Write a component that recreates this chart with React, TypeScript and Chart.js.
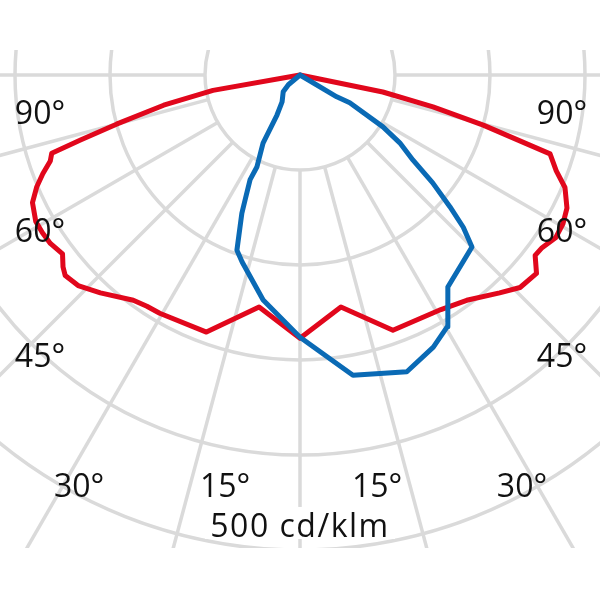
import React, { useEffect, useRef } from "react";
import { Chart, registerables } from "chart.js";
Chart.register(...registerables);

// Light distribution (cd/klm), angle in degrees from nadir; negative = left half
const redAngles = [-90, -80, -77.5, -75, -73.5, -72.5, -71, -69, -67, -64.5, -61, -58.5, -56, -53, -51, -49.5, -46.5, -42.5, -36.5, -33.5, -30.5, -20, -10, 0, 10, 20, 31, 36.5, 42.5, 46, 50, 52.5, 54.5, 57.5, 60.5, 63.5, 67, 69.5, 72.5, 74.7, 76.5, 78.4, 90];
const redValues = [0, 93, 147, 200, 241, 274, 278, 290, 301, 312, 318, 318, 317, 313, 321, 325, 322, 311, 295, 292, 291, 288, 248, 277, 248, 286, 288, 295, 311, 322, 325, 312, 313, 319, 318, 314, 303, 288, 276, 200, 144, 89, 0];

const blueAngles = [-90, -50, -45, -33.7, -29.9, -28.5, -25.1, -25.5, -23.7, -22.8, -19.8, -17.2, -9.3, 0, 5.5, 10, 19.8, 26.1, 30.3, 34.9, 45, 47, 48.7, 50.9, 53, 55.8, 58, 60.8, 59.3, 90];
const blueValues = [0, 16, 25, 34, 48.6, 81.5, 107, 122, 144, 158, 196, 206, 240, 276, 298, 321, 332, 319, 307, 272, 256, 235, 210, 180, 149, 127, 103, 60, 45, 0];

const ringValues = [100, 200, 300, 400, 500];
const spokeAngles = [-90, -75, -60, -45, -30, -15, 0, 15, 30, 45, 60, 75, 90];
const angleTickLabels = ["90°", "60°", "45°", "30°", "15°", "15°", "30°", "45°", "60°", "90°"];
const unitLabel = "500 cd/klm";

// label anchor points in chart units (x, baseline y)
const tickSpots = [
  [-273.7, -51.6], [-273.7, -175.8], [-273.7, -307.4], [-232.6, -444.2], [-78.9, -444.2],
  [81.1, -444.2], [233.7, -444.2], [275.8, -307.4], [275.8, -175.8], [275.8, -51.6],
];
const unitSpot = [0, -486.3];

const toXY = (angles: number[], values: number[]) =>
  angles.map((a, i) => ({
    x: values[i] * Math.sin((a * Math.PI) / 180),
    y: -values[i] * Math.cos((a * Math.PI) / 180),
  }));

const GRID = "#dadada";
const FONT = '32px "Open Sans"';

const gridPlugin = {
  id: "polarGrid",
  beforeDatasetsDraw(chart: any) {
    const { ctx, chartArea, scales } = chart;
    const xs = scales.x, ys = scales.y;
    const cx = xs.getPixelForValue(0), cy = ys.getPixelForValue(0);
    const ppu = (xs.getPixelForValue(100) - cx) / 100;
    const top = ys.getPixelForValue(26.3), bottom = ys.getPixelForValue(-497.9);
    ctx.save();
    ctx.beginPath();
    ctx.rect(chartArea.left, top, chartArea.right - chartArea.left, bottom - top);
    ctx.clip();
    ctx.strokeStyle = GRID;
    ctx.lineWidth = 3.5;
    ringValues.forEach((r) => {
      ctx.beginPath();
      ctx.arc(cx, cy, r * ppu, 0, Math.PI * 2);
      ctx.stroke();
    });
    spokeAngles.forEach((a) => {
      const s = Math.sin((a * Math.PI) / 180), c = Math.cos((a * Math.PI) / 180);
      ctx.beginPath();
      ctx.moveTo(xs.getPixelForValue(100 * s), ys.getPixelForValue(-100 * c));
      ctx.lineTo(xs.getPixelForValue(1000 * s), ys.getPixelForValue(-1000 * c));
      ctx.stroke();
    });
    ctx.restore();
    // white box behind unit label
    ctx.save();
    ctx.fillStyle = "#ffffff";
    const bx0 = xs.getPixelForValue(-100), bx1 = xs.getPixelForValue(100);
    const by0 = ys.getPixelForValue(-454.7), by1 = ys.getPixelForValue(-488.4);
    ctx.fillRect(bx0, by0, bx1 - bx0, by1 - by0);
    ctx.restore();
  },
  afterDatasetsDraw(chart: any) {
    const { ctx, scales } = chart;
    const xs = scales.x, ys = scales.y;
    ctx.save();
    ctx.font = FONT;
    ctx.fillStyle = "#111111";
    ctx.textAlign = "center";
    ctx.textBaseline = "alphabetic";
    angleTickLabels.forEach((t, i) => {
      ctx.fillText(t, xs.getPixelForValue(tickSpots[i][0]), ys.getPixelForValue(tickSpots[i][1]));
    });
    (ctx as any).letterSpacing = "1.5px";
    ctx.fillText(unitLabel, xs.getPixelForValue(unitSpot[0]), ys.getPixelForValue(unitSpot[1]));
    ctx.restore();
  },
};

export default function App() {
  const ref = useRef<HTMLCanvasElement>(null);
  useEffect(() => {
    if (!ref.current) return;
    const chart = new Chart(ref.current, {
      type: "scatter",
      data: {
        datasets: [
          {
            data: toXY(blueAngles, blueValues),
            showLine: true,
            borderColor: "#0a6ab5",
            borderWidth: 5,
            pointRadius: 0,
            fill: false,
            tension: 0,
            borderJoinStyle: "round",
            borderCapStyle: "round",
          },
          {
            data: toXY(redAngles, redValues),
            showLine: true,
            borderColor: "#e1071c",
            borderWidth: 5,
            pointRadius: 0,
            fill: false,
            tension: 0,
            borderJoinStyle: "round",
            borderCapStyle: "round",
          },
        ],
      },
      options: {
        animation: false,
        responsive: false,
        maintainAspectRatio: false,
        layout: { padding: 0 },
        plugins: { legend: { display: false }, tooltip: { enabled: false } },
        scales: {
          x: { type: "linear", min: -315.79, max: 315.79, display: false },
          y: { type: "linear", min: -552.63, max: 78.95, display: false },
        },
      },
      plugins: [gridPlugin],
    } as any);
    return () => chart.destroy();
  }, []);
  return (
    <div style={{ position: "fixed", left: 0, top: 0, width: 600, height: 600, background: "#fff" }}>
      <canvas ref={ref} width={600} height={600} style={{ width: 600, height: 600 }} />
    </div>
  );
}
